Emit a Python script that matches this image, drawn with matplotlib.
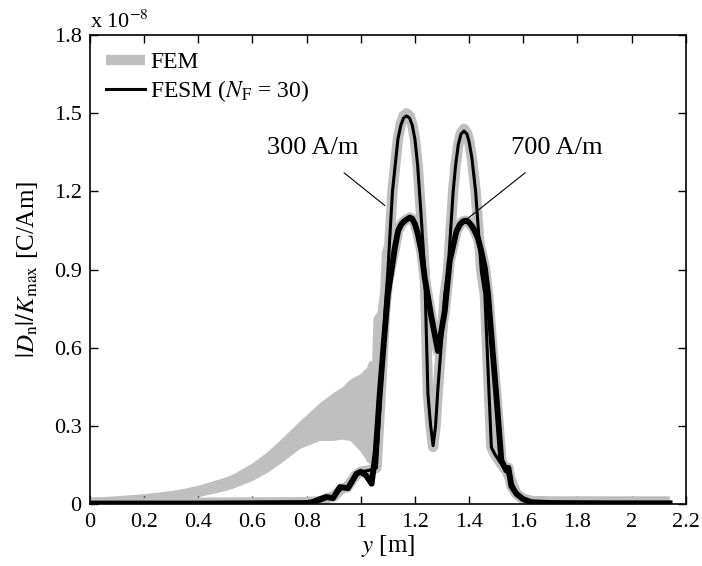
import matplotlib
matplotlib.use("Agg")
import matplotlib.pyplot as plt
from matplotlib.ticker import FuncFormatter

plt.rcParams['font.family'] = ['Liberation Serif', 'DejaVu Serif']
plt.rcParams['mathtext.fontset'] = 'stix'
plt.rcParams['font.size'] = 16

# ---- data (values in units of 1e-8 C/Am) ----
x_fesm300 = [0, 0.2, 0.4, 0.6, 0.8, 0.85, 0.88, 0.9, 0.93, 0.95, 0.98, 1.0, 1.03, 1.058,
             1.075, 1.09, 1.10, 1.117, 1.137, 1.148, 1.158, 1.169, 1.18, 1.19, 1.2, 1.21,
             1.222, 1.236, 1.248, 1.258, 1.267, 1.276, 1.285, 1.30, 1.31, 1.322, 1.341,
             1.35, 1.36, 1.37, 1.381, 1.392, 1.40, 1.41, 1.424, 1.445, 1.458, 1.482,
             1.494, 1.515, 1.537, 1.555, 1.575, 1.6, 1.635, 1.7, 1.9, 2.14]
y_fesm300 = [0.004, 0.004, 0.004, 0.005, 0.006, 0.012, 0.025, 0.03, 0.06, 0.065, 0.11,
             0.125, 0.13, 0.14, 0.45, 0.75, 0.894, 1.2, 1.4, 1.455, 1.482, 1.49, 1.482,
             1.455, 1.40, 1.3, 1.12, 0.894, 0.423, 0.3, 0.225, 0.3, 0.448, 0.65, 0.805,
             0.894, 1.2, 1.3, 1.38, 1.42, 1.432, 1.42, 1.39, 1.33, 1.2, 0.894, 0.805,
             0.219, 0.194, 0.16, 0.13, 0.09, 0.041, 0.02, 0.01, 0.006, 0.005, 0.005]

x_fesm700 = [0, 0.2, 0.4, 0.6, 0.8, 0.824, 0.85, 0.873, 0.898, 0.923, 0.953, 0.984, 1.0,
             1.02, 1.04, 1.055, 1.07, 1.085, 1.10, 1.113, 1.125, 1.138, 1.15, 1.165,
             1.181, 1.19, 1.2, 1.21, 1.224, 1.236, 1.261, 1.285, 1.31, 1.328, 1.353,
             1.365, 1.377, 1.387, 1.398, 1.41, 1.42, 1.433, 1.445, 1.458, 1.47, 1.485,
             1.50, 1.519, 1.537, 1.545, 1.556, 1.575, 1.599, 1.63, 1.7, 1.9, 2.14]
y_fesm700 = [0.003, 0.003, 0.003, 0.004, 0.005, 0.009, 0.02, 0.028, 0.024, 0.066, 0.062,
             0.117, 0.125, 0.11, 0.079, 0.2, 0.423, 0.62, 0.805, 0.894, 0.98, 1.05,
             1.075, 1.09, 1.10, 1.095, 1.075, 1.04, 0.97, 0.869, 0.716, 0.588, 0.741,
             0.932, 1.047, 1.072, 1.085, 1.088, 1.083, 1.068, 1.05, 1.02, 0.97, 0.907,
             0.805, 0.61, 0.423, 0.168, 0.13, 0.14, 0.07, 0.04, 0.02, 0.008, 0.005,
             0.004, 0.004]

x_fem300 = x_fesm300
y_fem300 = [0.006, 0.006, 0.006, 0.007, 0.008, 0.012, 0.025, 0.03, 0.06, 0.065, 0.11,
            0.125, 0.13, 0.14, 0.45, 0.75, 0.894, 1.2, 1.4, 1.46, 1.49, 1.50, 1.49,
            1.46, 1.40, 1.3, 1.12, 0.894, 0.423, 0.3, 0.22, 0.3, 0.448, 0.65, 0.805,
            0.894, 1.2, 1.3, 1.38, 1.425, 1.44, 1.425, 1.395, 1.33, 1.2, 0.894, 0.805,
            0.219, 0.194, 0.16, 0.13, 0.09, 0.041, 0.02, 0.012, 0.01, 0.01, 0.01]

x_fem700 = [1.04, 1.055, 1.07, 1.085, 1.10, 1.113, 1.125, 1.138, 1.15, 1.165, 1.181,
            1.19, 1.2, 1.21, 1.224, 1.236, 1.261, 1.285, 1.31, 1.328, 1.353, 1.365,
            1.377, 1.387, 1.398, 1.41, 1.42, 1.433, 1.445, 1.458, 1.47, 1.485, 1.50,
            1.519, 1.537, 1.545, 1.556, 1.575, 1.599, 1.63, 1.7, 1.9, 2.14]
y_fem700 = [0.16, 0.3, 0.5, 0.7, 0.85, 0.92, 0.98, 1.05, 1.075, 1.09, 1.10, 1.095, 1.075,
            1.04, 0.97, 0.869, 0.716, 0.588, 0.741, 0.932, 1.047, 1.072, 1.085, 1.088,
            1.083, 1.068, 1.05, 1.02, 0.97, 0.907, 0.805, 0.61, 0.423, 0.168, 0.13,
            0.14, 0.07, 0.04, 0.02, 0.012, 0.01, 0.01, 0.01]

# oscillating FEM band (visual envelope) at low y
x_band = [0, 0.1, 0.2, 0.3, 0.35, 0.406, 0.45, 0.5, 0.529, 0.6, 0.652, 0.7, 0.775,
          0.849, 0.898, 0.93, 0.96, 0.996, 1.021, 1.03, 1.04, 1.045, 1.06, 1.07,
          1.076, 1.085]
band_upper = [0.027, 0.033, 0.041, 0.053, 0.062, 0.075, 0.089, 0.105, 0.117, 0.16,
              0.2, 0.245, 0.321, 0.391, 0.429, 0.45, 0.48, 0.50, 0.525, 0.55, 0.55,
              0.716, 0.74, 0.82, 0.97, 1.0]
band_lower = [0.0, 0.004, 0.009, 0.017, 0.022, 0.031, 0.041, 0.053, 0.062, 0.092,
              0.121, 0.155, 0.215, 0.245, 0.245, 0.25, 0.245, 0.206, 0.168, 0.157,
              0.157, 0.2, 0.3, 0.4, 0.6, 0.8]

x_ticks = [0, 0.2, 0.4, 0.6, 0.8, 1.0, 1.2, 1.4, 1.6, 1.8, 2.0, 2.2]
y_ticks = [0, 0.3, 0.6, 0.9, 1.2, 1.5, 1.8]

gray = '#bfbfbf'

fig = plt.figure(figsize=(7.02, 5.66), dpi=100)
ax = fig.add_axes([0.128, 0.109, 0.849, 0.829])

ax.fill_between(x_band, band_lower, band_upper, color=gray, lw=0)
ax.plot(x_fem700, y_fem700, color=gray, lw=7.5, solid_capstyle='butt')
fem_line, = ax.plot(x_fem300, y_fem300, color=gray, lw=7.5, solid_capstyle='butt')
ax.plot(x_fesm700, y_fesm700, color='black', lw=4.2, solid_joinstyle='round')
fesm_line, = ax.plot(x_fesm300, y_fesm300, color='black', lw=2.2)

ax.set_xlim(0, 2.2)
ax.set_ylim(0, 1.8)
ax.set_xticks(x_ticks)
ax.set_yticks(y_ticks)
fmt = FuncFormatter(lambda v, p: '%g' % round(v, 3))
ax.xaxis.set_major_formatter(fmt)
ax.yaxis.set_major_formatter(fmt)
ax.tick_params(direction='in', top=True, right=True, length=6, width=1, labelsize=16, pad=6)
for s in ax.spines.values():
    s.set_linewidth(1.2)

ax.text(0.0, 1.005, r'x 10$^{-8}$', transform=ax.transAxes, ha='left', va='bottom', fontsize=16)

ax.set_xlabel(r'$y$ [m]', fontsize=18, labelpad=1)
ax.set_ylabel(r'$|D_{\rm n}|/K_{\rm max}$ [C/Am]', fontsize=18, labelpad=10)

ax.annotate('300 A/m', xy=(1.089, 1.146), xytext=(0.823, 1.368), fontsize=19,
            ha='center', va='center',
            arrowprops=dict(arrowstyle='-', lw=0.8, color='black', shrinkA=13, shrinkB=0))
ax.annotate('700 A/m', xy=(1.393, 1.095), xytext=(1.723, 1.368), fontsize=19,
            ha='center', va='center',
            arrowprops=dict(arrowstyle='-', lw=0.8, color='black', shrinkA=13, shrinkB=0))

ax.legend([fem_line, fesm_line], ['FEM', r'FESM ($N_{\rm F}$ = 30)'], loc='upper left',
          frameon=False, fontsize=17, handlelength=1.65, handletextpad=0.2,
          borderaxespad=0.3, labelspacing=0.2, bbox_to_anchor=(0.0, 1.0))

fig.savefig('out.png', dpi=100)
